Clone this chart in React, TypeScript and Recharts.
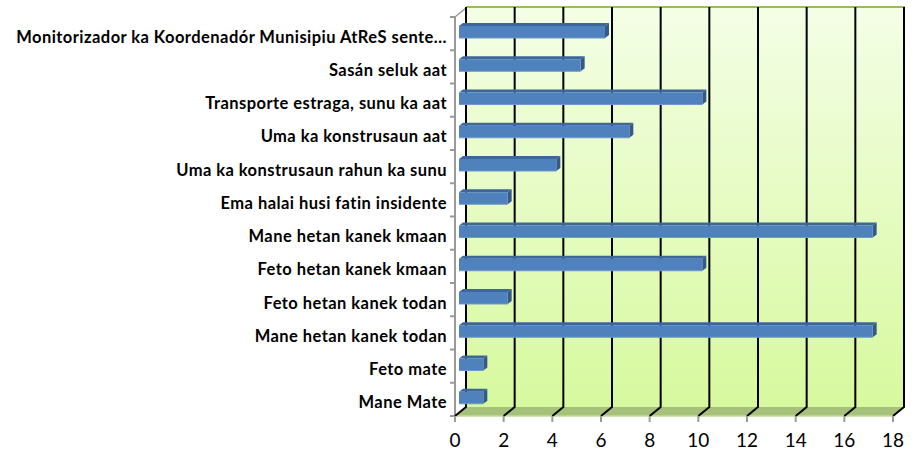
import React from 'react';
import { BarChart, Bar, XAxis, YAxis, CartesianGrid } from 'recharts';

const categories = [
  'Monitorizador ka Koordenadór Munisipiu AtReS sente…',
  'Sasán seluk aat',
  'Transporte estraga, sunu ka aat',
  'Uma ka konstrusaun aat',
  'Uma ka konstrusaun rahun ka sunu',
  'Ema halai husi fatin insidente',
  'Mane hetan kanek kmaan',
  'Feto hetan kanek kmaan',
  'Feto hetan kanek todan',
  'Mane hetan kanek todan',
  'Feto mate',
  'Mane Mate',
];
const values = [6, 5, 10, 7, 4, 2, 17, 10, 2, 17, 1, 1];
const xTicks = [0, 2, 4, 6, 8, 10, 12, 14, 16, 18];

const data = categories.map((name, i) => ({ name, value: values[i] }));

// layout of the pseudo-3D box
const W = 919;
const H = 459;
const LEFT = 455;
const TOP = 17;
const RIGHT = 893;
const BOTTOM = 416;
const DX = 11;
const DY = 9;
const BAND = (BOTTOM - TOP) / categories.length;
const FONT = "Lato, 'Open Sans', sans-serif";

// back wall + floor, drawn in a layer under the chart svg
function Wall() {
  return (
    <svg width={W} height={H} style={{ position: 'absolute', left: 0, top: 0 }}>
      <defs>
        <linearGradient id="wallFill" x1="0" y1="0" x2="0" y2="1">
          <stop offset="0%" stopColor="#f4fee6" />
          <stop offset="100%" stopColor="#d7f99e" />
        </linearGradient>
      </defs>
      <rect x={LEFT + DX} y={TOP - DY - 1} width={RIGHT - LEFT} height={BOTTOM - TOP + 1} fill="url(#wallFill)" />
      <line x1={LEFT + DX} y1={TOP - DY - 1} x2={RIGHT + DX + 1} y2={TOP - DY - 1} stroke="#9bbb59" strokeWidth={2} />
      <polygon
        points={`${LEFT + DX},${BOTTOM - DY} ${RIGHT + DX},${BOTTOM - DY} ${RIGHT},${BOTTOM} ${LEFT},${BOTTOM}`}
        fill="#a6c27a"
      />
      <line x1={LEFT} y1={BOTTOM} x2={RIGHT} y2={BOTTOM} stroke="#c3dc95" strokeWidth={1.5} />
      <line x1={LEFT} y1={TOP} x2={LEFT} y2={BOTTOM} stroke="#9a9a9a" strokeWidth={2} />
      <line x1={LEFT} y1={TOP} x2={LEFT + DX} y2={TOP - DY} stroke="#9a9a9a" strokeWidth={1.5} />
      <line x1={LEFT - 5} y1={BOTTOM} x2={LEFT} y2={BOTTOM} stroke="#9a9a9a" strokeWidth={2} />
    </svg>
  );
}

function GridLine(props: any) {
  const { x1, y1, y2 } = props;
  if (x1 == null) return null;
  return (
    <path
      d={`M${x1 + DX},${y1 - DY - 1} L${x1 + DX},${y2 - DY} L${x1},${y2}`}
      stroke="#000"
      strokeWidth={2}
      fill="none"
    />
  );
}

function CatTick(props: any) {
  const { y, payload } = props;
  return (
    <g>
      <line x1={LEFT - 5} y1={y - BAND / 2} x2={LEFT} y2={y - BAND / 2} stroke="#9a9a9a" strokeWidth={2} />
      <text
        x={LEFT - 8}
        y={y + 3}
        textAnchor="end"
        dominantBaseline="central"
        fontFamily={FONT}
        fontWeight="bold"
        fontSize={16.5}
        letterSpacing={0.45}
        fill="#000"
      >
        {payload.value}
      </text>
    </g>
  );
}

function Bar3D(props: any) {
  const { x, y, width, height } = props;
  if (!width) return null;
  const fx = x + 4;
  const fy = y - 2;
  const d = 4;
  return (
    <g>
      <polygon
        points={`${fx},${fy} ${fx + width},${fy} ${fx + width + d},${fy - d + 1} ${fx + d},${fy - d + 1}`}
        fill="#3d6699"
      />
      <polygon
        points={`${fx + width},${fy} ${fx + width + d},${fy - d + 1} ${fx + width + d},${fy + height - d + 1} ${fx + width},${fy + height}`}
        fill="#34598a"
      />
      <rect x={fx} y={fy} width={width} height={height} fill="#4f81bd" />
      <line x1={fx} y1={fy + height} x2={fx + width} y2={fy + height} stroke="#6f98cc" strokeWidth={1} />
    </g>
  );
}

export default function App() {
  return (
    <div style={{ position: 'absolute', left: 0, top: 0, width: W, height: H, background: '#fff' }}>
      <Wall />
      <div style={{ position: 'absolute', left: 0, top: 0 }}>
        <BarChart
          width={W}
          height={H}
          data={data}
          layout="vertical"
          margin={{ top: TOP, right: W - RIGHT, bottom: 0, left: 0 }}
          barSize={12}
        >
          <CartesianGrid horizontal={false} vertical={(p: any) => <GridLine key={p.key ?? p.index} {...p} />} />
          <XAxis
            type="number"
            domain={[0, 18]}
            ticks={xTicks}
            interval={0}
            height={H - BOTTOM}
            axisLine={false}
            tickLine={{ stroke: '#9a9a9a', strokeWidth: 2 }}
            tickSize={6}
            tickMargin={12}
            tick={{ fill: '#000', fontSize: 19, fontFamily: FONT }}
          />
          <YAxis
            type="category"
            dataKey="name"
            width={LEFT}
            axisLine={false}
            tickLine={false}
            interval={0}
            tick={<CatTick />}
          />
          <Bar dataKey="value" shape={<Bar3D />} isAnimationActive={false} />
        </BarChart>
      </div>
    </div>
  );
}
